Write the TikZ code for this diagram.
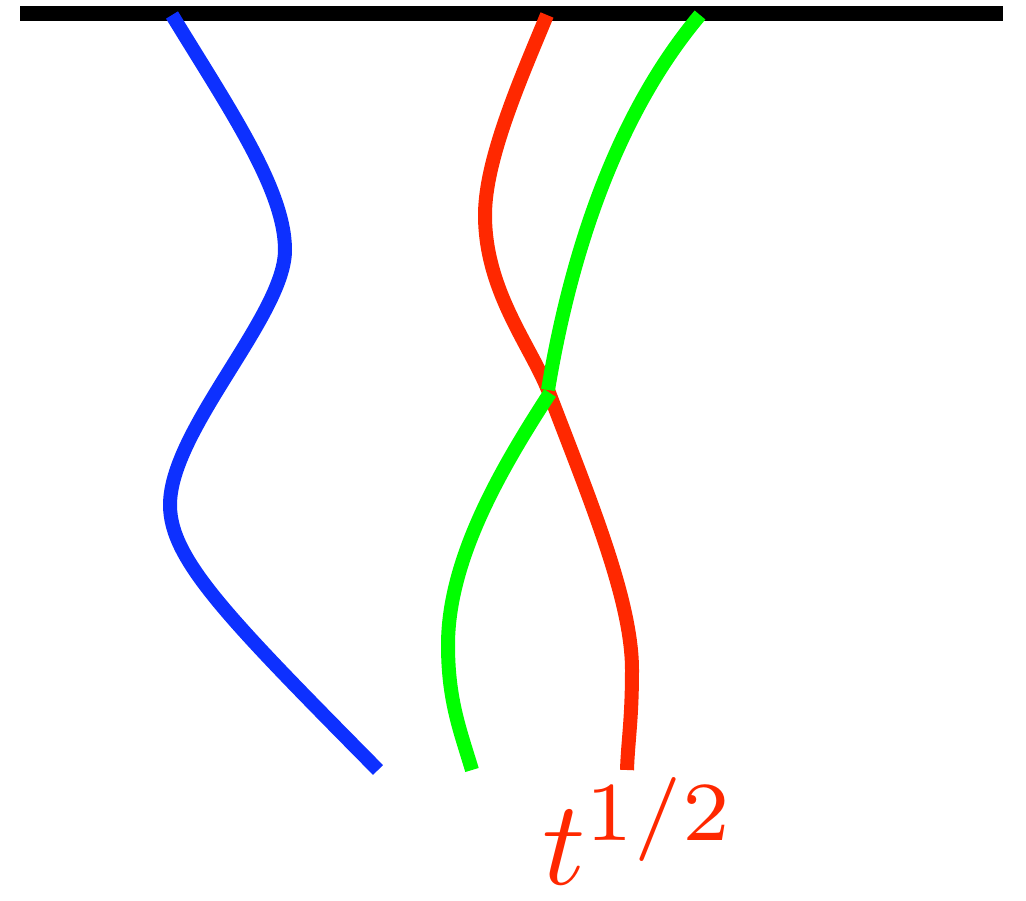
\documentclass[tikz,border=0pt]{standalone}
\definecolor{cblue}{RGB}{13,48,255}
\definecolor{cred}{RGB}{255,40,0}
\definecolor{cgreen}{RGB}{0,255,0}
\tikzset{strand/.style={line width=14pt, line cap=butt, line join=round}}
\begin{document}
\begin{tikzpicture}[x=1pt,y=-1pt]
\useasboundingbox (0,0) rectangle (1026,901);
% top bar
\fill[black] (20,6) rectangle (1003,21);
% blue
\draw[strand, cblue] (172,15) .. controls (230,110) and (285,190) .. (285,250)
  .. controls (285,315) and (170,430) .. (170,505)
  .. controls (170,560) and (230,620) .. (378,770);
% red
\draw[strand, cred] (547,15) .. controls (520,80) and (485,160) .. (485,215)
  .. controls (485,290) and (530,345) .. (548,390)
  .. controls (590,500) and (632,600) .. (632,670)
  .. controls (632,720) and (628,740) .. (627,770);
% green
\draw[strand, cgreen] (700,15) .. controls (620,110) and (572,245) .. (548,390);
\draw[strand, cgreen] (550,393) .. controls (500,470) and (448,560) .. (448,645)
  .. controls (448,700) and (460,730) .. (472,770);
% label
\node[anchor=base west, inner sep=0pt, text=cred, scale=12] (lab) at (540,884)
  {$t^{1/2}$};
\end{tikzpicture}
\end{document}
